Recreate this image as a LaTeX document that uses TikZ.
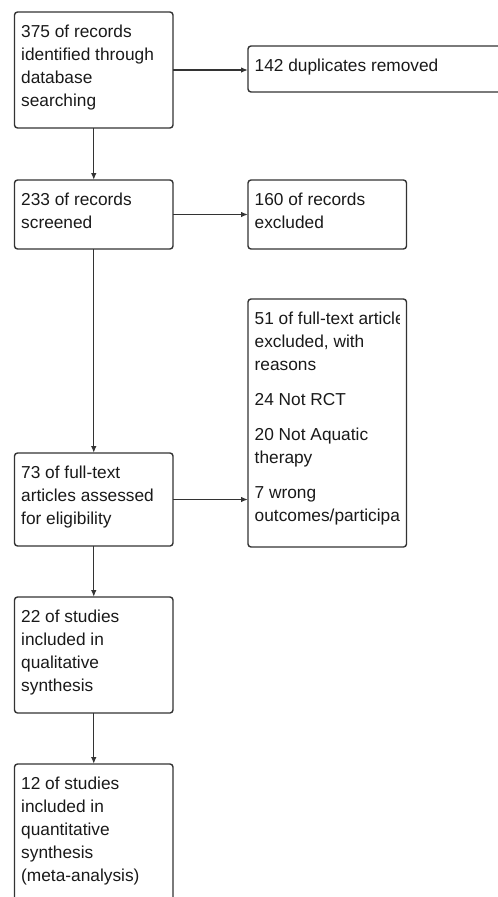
\documentclass[tikz,border=0pt]{standalone}
\usepackage{fontspec}
\setmainfont{Liberation Sans}
\usepackage{tikz}
\usetikzlibrary{arrows.meta}
\tikzset{>=latex}
\colorlet{linecol}{black!80}
\tikzstyle{box}=[draw=linecol,line width=1.4,rounded corners=3,anchor=north west,inner sep=0,outer sep=0]
\tikzstyle{boxtext}=[anchor=north west,align=left,inner sep=0,text=black!90,font=\fontsize{17.3}{23}\selectfont]
\tikzstyle{flow}=[-{Latex[length=7,width=5.5]},line width=1.3,linecol]

\begin{document}
\begin{tikzpicture}[x=1pt,y=-1pt]
  \def\L{14.5}  % left column x
  \def\R{248}   % right column x
  \def\w{158.5} % box width
  \def\px{6.5}  % text indent
  \def\py{12.6} % top of first line below box top

  \clip (0,0) rectangle (498,897);

  % LEFT COLUMN
  \node[box,minimum width=\w,minimum height=116] (ident) at (\L,12) {};
  \node[box,minimum width=\w,minimum height=69] (screen) at (\L,180) {};
  \node[box,minimum width=\w,minimum height=93] (assess) at (\L,453) {};
  \node[box,minimum width=\w,minimum height=116] (qual) at (\L,597) {};
  \node[box,minimum width=\w,minimum height=160] (quant) at (\L,764) {};

  % RIGHT COLUMN
  \node[box,minimum width=280,minimum height=46] (dup) at (\R,46) {};
  \node[box,minimum width=\w,minimum height=69] (excl) at (\R,180) {};
  \node[box,minimum width=\w,minimum height=248] (ftexcl) at (\R,299) {};

  % TEXTS
  \node[boxtext] (identtxt) at ([xshift=\px,yshift=-\py]ident.north west)
    {375 of records\\identified through\\database\\searching};
  \node[boxtext] (screentxt) at ([xshift=\px,yshift=-\py]screen.north west)
    {233 of records\\screened};
  \node[boxtext] (assesstxt) at ([xshift=\px,yshift=-\py]assess.north west)
    {73 of full-text\\articles assessed\\for eligibility};
  \node[boxtext] (qualtxt) at ([xshift=\px,yshift=-\py]qual.north west)
    {22 of studies\\included in\\qualitative\\synthesis};
  \node[boxtext] (quanttxt) at ([xshift=\px,yshift=-\py]quant.north west)
    {12 of studies\\included in\\quantitative\\synthesis\\(meta-analysis)};
  \node[boxtext] (duptxt) at ([xshift=\px,yshift=-\py]dup.north west)
    {142 duplicates removed};
  \node[boxtext] (excltxt) at ([xshift=\px,yshift=-\py]excl.north west)
    {160 of records\\excluded};
  \begin{scope}
    \clip (ftexcl.north west) rectangle ([xshift=-7]ftexcl.south east);
    \node[boxtext] (ftexcltxt) at ([xshift=\px,yshift=-\py]ftexcl.north west)
      {51 of full-text article\\excluded, with\\reasons\\[12pt]
       24 Not RCT\\[12pt]
       20 Not Aquatic\\therapy\\[12pt]
       7 wrong\\outcomes/participa};
  \end{scope}

  % ARROWS
  \draw[flow] (ident.south) -- (screen.north);
  \draw[flow] (screen.south) -- (assess.north);
  \draw[flow] (assess.south) -- (qual.north);
  \draw[flow] (qual.south) -- (quant.north);
  \draw[flow] (ident.east) -- (ident.east -| dup.west);
  \draw[flow] (screen.east) -- (excl.west);
  \draw[flow] (assess.east) -- (assess.east -| ftexcl.west);

\end{tikzpicture}
\end{document}
